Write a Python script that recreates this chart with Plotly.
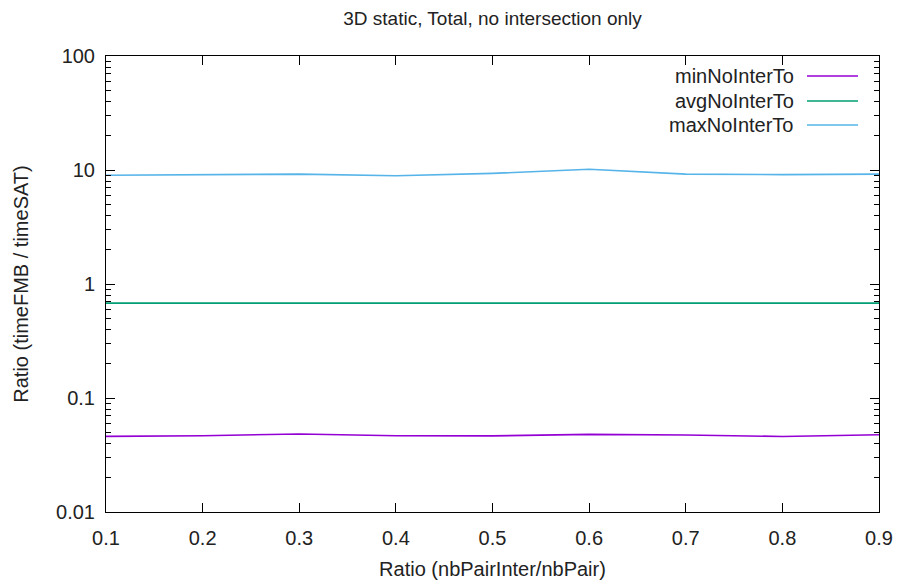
import plotly.graph_objects as go

# ---- data ----
ratio = [0.1, 0.2, 0.3, 0.4, 0.5, 0.6, 0.7, 0.8, 0.9]
minNoInterTo = [0.0461, 0.0467, 0.0483, 0.0467, 0.0465, 0.0480, 0.0473, 0.0460, 0.0476]
avgNoInterTo = [0.68, 0.68, 0.68, 0.68, 0.68, 0.68, 0.68, 0.68, 0.68]
maxNoInterTo = [9.0, 9.1, 9.2, 8.9, 9.35, 10.14, 9.2, 9.1, 9.2]

series_names = ["minNoInterTo", "avgNoInterTo", "maxNoInterTo"]
series_colors = ["#9400D3", "#009E73", "#56B4E9"]
series_values = [minNoInterTo, avgNoInterTo, maxNoInterTo]

x_ticks = [0.1, 0.2, 0.3, 0.4, 0.5, 0.6, 0.7, 0.8, 0.9]
x_ticklabels = ["0.1", "0.2", "0.3", "0.4", "0.5", "0.6", "0.7", "0.8", "0.9"]
y_ticks = [0.01, 0.1, 1, 10, 100]
y_ticklabels = ["0.01", "0.1", "1", "10", "100"]

FONT = "Liberation Sans, Arial, sans-serif"
FS = 20
W, H = 898, 588
ML, MR, MT, MB = 106, 19, 56, 76
PW, PH = W - ML - MR, H - MT - MB

fig = go.Figure()
for name, color, vals in zip(series_names, series_colors, series_values):
    fig.add_trace(go.Scatter(x=ratio, y=vals, mode="lines", name=name,
                             line=dict(color=color, width=1.6), showlegend=False))

minor_y = [k * 10 ** e for e in range(-2, 2) for k in range(2, 10)]

axis_common = dict(showline=True, linecolor="black", linewidth=1, mirror="allticks",
                   ticks="inside", ticklen=9, tickcolor="black", tickwidth=1,
                   showgrid=False, zeroline=False, automargin=False,
                   tickfont=dict(family=FONT, size=FS, color="#222"))

fig.update_xaxes(range=[0.1, 0.9], tickvals=x_ticks, ticktext=x_ticklabels,
                 ticklabelstandoff=8,
                 title=dict(text="Ratio (nbPairInter/nbPair)", font=dict(family=FONT, size=FS, color="#222"),
                            standoff=13),
                 **axis_common)
fig.update_yaxes(type="log", range=[-2, 2], tickvals=y_ticks, ticktext=y_ticklabels,
                 ticklabelstandoff=6,
                 minor=dict(tickvals=minor_y, ticks="inside", ticklen=5, tickcolor="black", tickwidth=1),
                 title=dict(text="Ratio (timeFMB / timeSAT)", font=dict(family=FONT, size=FS, color="#222"),
                            standoff=22),
                 **axis_common)

# legend (gnuplot style: text right-aligned, sample line to the right)
leg_text_x = 796
leg_line_x0, leg_line_x1 = 807, 858
leg_y = [76, 101, 125]
for name, color, ypx in zip(series_names, series_colors, leg_y):
    yp = 1 - (ypx - MT) / PH
    fig.add_annotation(x=(leg_text_x - ML) / PW, y=yp, xref="paper", yref="paper",
                       text=name, showarrow=False, xanchor="right", yanchor="middle",
                       font=dict(family=FONT, size=FS, color="#222"))
    fig.add_shape(type="line", xref="paper", yref="paper",
                  x0=(leg_line_x0 - ML) / PW, x1=(leg_line_x1 - ML) / PW, y0=yp, y1=yp,
                  line=dict(color=color, width=1.6))

fig.update_layout(
    width=W, height=H,
    margin=dict(l=ML, r=MR, t=MT, b=MB, autoexpand=False),
    paper_bgcolor="white", plot_bgcolor="white",
    title=dict(text="3D static, Total, no intersection only", x=(ML + PW / 2) / W, xanchor="center",
               y=1 - 18 / H, yanchor="middle", font=dict(family=FONT, size=FS - 1, color="#222")),
    font=dict(family=FONT, size=FS, color="#222"),
)

fig.write_html("out.html", config={"displayModeBar": False},
               post_script="document.body.style.margin='0';document.body.style.overflow='hidden';")
